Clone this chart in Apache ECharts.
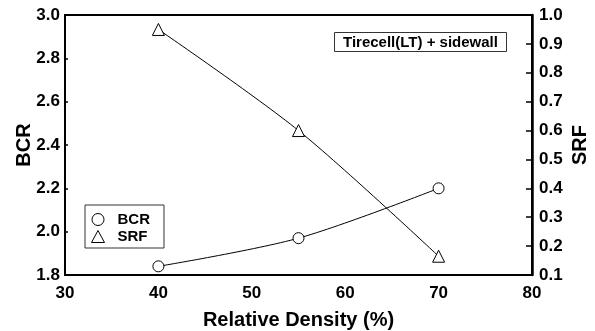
<!DOCTYPE html>
<html>
<head>
<meta charset="utf-8">
<script src="https://cdn.jsdelivr.net/npm/echarts@6/dist/echarts.min.js"></script>
<style>
  html, body { margin: 0; padding: 0; background: #fff; }
  #chart { width: 595px; height: 331px; }
</style>
</head>
<body>
<div id="chart"></div>
<script>
// relative density (%)
const density = [40, 55, 70];
// left axis
const bcr = [1.84, 1.97, 2.2];
// right axis
const srf = [0.95, 0.6, 0.165];

const font = "Liberation Sans, Arial, sans-serif";

const chart = echarts.init(document.getElementById("chart"));
chart.setOption({
    animation: false,
    title: {
        text: "Tirecell(LT) + sidewall",
        left: 334,
        top: 32,
        borderColor: "#333",
        borderWidth: 1,
        padding: [3, 9, 2, 9],
        textStyle: { fontFamily: font, fontSize: 15, fontWeight: "bold", color: "#000" }
    },
    legend: {
        orient: "vertical",
        left: 85,
        top: 205,
        borderColor: "#333",
        borderWidth: 1,
        padding: [7, 14, 4, 6],
        itemGap: 2,
        itemWidth: 13,
        itemHeight: 12,
        textStyle: { fontFamily: font, fontSize: 15, fontWeight: "bold", color: "#000", padding: [0, 0, 0, 8] },
        data: [
            { name: "BCR", icon: "circle", itemStyle: { color: "#fff", borderColor: "#000", borderWidth: 1 } },
            { name: "SRF", icon: "triangle", itemStyle: { color: "#fff", borderColor: "#000", borderWidth: 1 } }
        ]
    },
    grid: {
        left: 65,
        right: 63,
        top: 15,
        bottom: 56,
        containLabel: false,
        outerBoundsMode: "none",
        show: true,
        borderColor: "#000",
        borderWidth: 2
    },
    xAxis: {
        type: "value",
        min: 30,
        max: 80,
        interval: 10,
        name: "Relative Density (%)",
        nameLocation: "middle",
        nameGap: 35,
        nameMoveOverlap: false,
        nameTextStyle: { fontFamily: font, fontSize: 20, fontWeight: "bold", color: "#000" },
        axisLine: { lineStyle: { color: "#000", width: 2 } },
        axisTick: { show: false },
        splitLine: { show: false },
        axisLabel: { fontFamily: font, fontSize: 17, fontWeight: "bold", color: "#000", margin: 10 }
    },
    yAxis: [
        {
            type: "value",
            min: 1.8,
            max: 3.0,
            interval: 0.2,
            name: "BCR",
            nameLocation: "middle",
            nameGap: 31,
            nameMoveOverlap: false,
            nameTextStyle: { fontFamily: font, fontSize: 20, fontWeight: "bold", color: "#000" },
            axisLine: { show: true, lineStyle: { color: "#000", width: 2 } },
            axisTick: { show: true, inside: true, length: 3, lineStyle: { color: "#000", width: 1.5 } },
            splitLine: { show: false },
            axisLabel: {
                fontFamily: font, fontSize: 17, fontWeight: "bold", color: "#000", margin: 5,
                formatter: (v) => v.toFixed(1)
            }
        },
        {
            type: "value",
            min: 0.1,
            max: 1.0,
            interval: 0.1,
            name: "SRF",
            nameLocation: "middle",
            nameGap: 38,
            nameMoveOverlap: false,
            nameTextStyle: { fontFamily: font, fontSize: 20, fontWeight: "bold", color: "#000" },
            axisLine: { show: true, lineStyle: { color: "#000", width: 2.5 } },
            axisTick: { show: true, inside: true, length: 6, lineStyle: { color: "#000", width: 1.5 } },
            splitLine: { show: false },
            axisLabel: {
                fontFamily: font, fontSize: 17, fontWeight: "bold", color: "#000", margin: 7,
                formatter: (v) => v.toFixed(1)
            }
        }
    ],
    series: [
        {
            name: "BCR",
            type: "line",
            yAxisIndex: 0,
            smooth: 0.3,
            symbol: "circle",
            symbolSize: 11,
            data: density.map((x, i) => [x, bcr[i]]),
            lineStyle: { color: "#000", width: 1 },
            itemStyle: { color: "#fff", borderColor: "#000", borderWidth: 1 }
        },
        {
            name: "SRF",
            type: "line",
            yAxisIndex: 1,
            smooth: 0.3,
            symbol: "triangle",
            symbolSize: 12,
            data: density.map((x, i) => [x, srf[i]]),
            lineStyle: { color: "#000", width: 1 },
            itemStyle: { color: "#fff", borderColor: "#000", borderWidth: 1 }
        }
    ]
});
</script>
</body>
</html>
